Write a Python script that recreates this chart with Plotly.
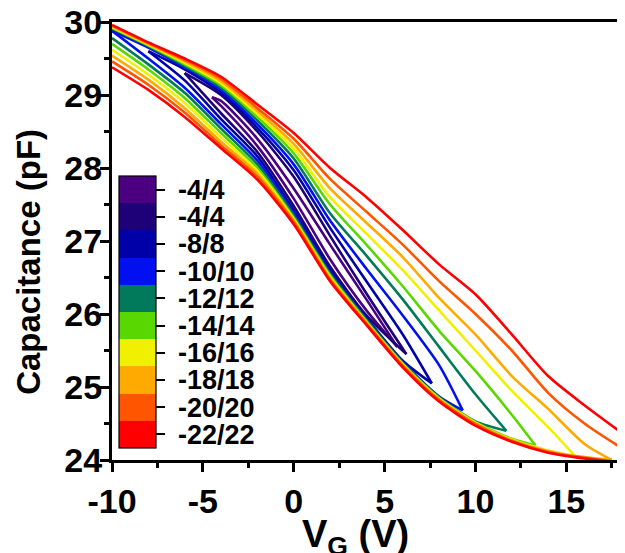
import plotly.graph_objects as go

# sweep ranges (label) and their colours, smallest loop first
RANGES = ["-4/4", "-4/4", "-8/8", "-10/10", "-12/12", "-14/14", "-16/16", "-18/18", "-20/20", "-22/22"]
COLORS = ["#4a0080", "#1e0078", "#0000a8", "#0010f0", "#007a5a",
          "#58d800", "#f0f000", "#ffaa00", "#ff5500", "#ff0000"]

X_TICKS = [-10, -5, 0, 5, 10, 15]
X_TICK_TEXT = ["-10", "-5", "0", "5", "10", "15"]
Y_TICKS = [24, 25, 26, 27, 28, 29, 30]

# gate voltage (V) and capacitance (pF) read off each branch of each loop
# A = lower-left branch, B = upper-right branch
V_4 = [-4.5, -4, -2, 0, 2, 4, 5.7]
A_4 = [28.97, 28.85, 28.30, 27.58, 26.75, 26.05, 25.55]
B_4 = [28.97, 28.92, 28.40, 27.72, 26.95, 26.20, 25.55]

V_6 = [-6, -4, -2, 0, 2, 4, 6.2]
A_6 = [29.30, 28.75, 28.22, 27.48, 26.65, 25.98, 25.45]
B_6 = [29.30, 29.00, 28.50, 27.88, 27.07, 26.28, 25.45]

V_8 = [-8, -6, -4, -2, 0, 2, 4, 6, 7.6]
A_8 = [29.60, 29.20, 28.67, 28.16, 27.42, 26.60, 25.95, 25.36, 25.05]
B_8 = [29.60, 29.35, 29.03, 28.55, 27.97, 27.18, 26.45, 25.72, 25.05]

V_10 = [-10, -8, -6, -4, -2, 0, 2, 4, 6, 8, 9.3]
A_10 = [29.88, 29.50, 29.10, 28.60, 28.10, 27.38, 26.57, 25.93, 25.34, 24.87, 24.68]
B_10 = [29.88, 29.65, 29.38, 29.07, 28.60, 28.05, 27.28, 26.62, 25.98, 25.30, 24.68]

V_12 = [-10, -8, -6, -4, -2, 0, 2, 4, 6, 8, 10, 11.7]
A_12 = [29.78, 29.42, 29.03, 28.54, 28.05, 27.35, 26.55, 25.92, 25.33, 24.86, 24.53, 24.40]
B_12 = [29.91, 29.67, 29.40, 29.10, 28.65, 28.13, 27.38, 26.80, 26.20, 25.55, 24.90, 24.40]

V_14 = [-10, -8, -6, -4, -2, 0, 2, 4, 6, 8, 10, 12, 13.3]
A_14 = [29.70, 29.35, 28.96, 28.48, 28.00, 27.32, 26.53, 25.90, 25.32, 24.85, 24.52, 24.29, 24.20]
B_14 = [29.92, 29.68, 29.42, 29.13, 28.70, 28.20, 27.50, 26.95, 26.38, 25.77, 25.22, 24.62, 24.20]

V_16 = [-10, -8, -6, -4, -2, 0, 2, 4, 6, 8, 10, 12, 14, 15.5]
A_16 = [29.62, 29.28, 28.89, 28.42, 27.96, 27.30, 26.51, 25.89, 25.31, 24.84, 24.51, 24.28, 24.13, 24.05]
B_16 = [29.93, 29.69, 29.44, 29.16, 28.74, 28.27, 27.60, 27.10, 26.60, 26.05, 25.50, 24.95, 24.45, 24.05]

V_18 = [-10, -8, -6, -4, -2, 0, 2, 4, 6, 8, 10, 12, 14, 16, 17.5]
A_18 = [29.54, 29.21, 28.82, 28.36, 27.92, 27.28, 26.49, 25.88, 25.30, 24.83, 24.50, 24.27, 24.12, 24.04, 24.00]
B_18 = [29.94, 29.70, 29.46, 29.19, 28.78, 28.33, 27.72, 27.25, 26.78, 26.22, 25.72, 25.15, 24.70, 24.22, 24.00]

V_20 = [-10, -8, -6, -4, -2, 0, 2, 4, 6, 8, 10, 12, 14, 16, 18]
A_20 = [29.46, 29.14, 28.76, 28.31, 27.88, 27.26, 26.47, 25.87, 25.29, 24.82, 24.49, 24.26, 24.11, 24.03, 23.97]
B_20 = [29.95, 29.71, 29.48, 29.22, 28.82, 28.40, 27.85, 27.40, 26.95, 26.45, 26.00, 25.50, 24.92, 24.50, 24.17]

V_22 = [-10, -8, -6, -4, -2, 0, 2, 4, 6, 8, 10, 12, 14, 16, 18]
A_22 = [29.38, 29.07, 28.70, 28.27, 27.84, 27.23, 26.45, 25.85, 25.27, 24.80, 24.47, 24.25, 24.10, 24.02, 23.96]
B_22 = [29.96, 29.72, 29.50, 29.25, 28.87, 28.48, 28.00, 27.60, 27.15, 26.68, 26.27, 25.72, 25.15, 24.75, 24.38]

LOOPS = [(V_4, A_4, B_4), (V_6, A_6, B_6), (V_8, A_8, B_8), (V_10, A_10, B_10),
         (V_12, A_12, B_12), (V_14, A_14, B_14), (V_16, A_16, B_16),
         (V_18, A_18, B_18), (V_20, A_20, B_20), (V_22, A_22, B_22)]

FONT = "Liberation Sans, Arial, sans-serif"

fig = go.Figure()

for (v, a, b), color, label in zip(LOOPS, COLORS, RANGES):
    for branch in (a, b):
        fig.add_trace(go.Scatter(
            x=v, y=branch, mode="lines", name=label, showlegend=False,
            line=dict(color=color, width=2.6, shape="spline", smoothing=0.7),
        ))

# colour key drawn as a discrete colorbar, red at the bottom
n = len(COLORS)
scale = []
for i, c in enumerate(reversed(COLORS)):
    scale += [(i / n, c), ((i + 1) / n, c)]

fig.add_trace(go.Scatter(
    x=[None], y=[None], mode="markers", showlegend=False, hoverinfo="skip",
    marker=dict(
        color=[0], cmin=-0.5, cmax=n - 0.5, colorscale=scale, showscale=True,
        colorbar=dict(
            tickvals=list(range(n)), ticktext=[" " + t for t in reversed(RANGES)],
            ticks="outside", ticklen=9, tickwidth=1.5, tickcolor="black",
            thickness=37, thicknessmode="pixels",
            len=272, lenmode="pixels",
            x=0.014, xanchor="left", y=0.338, yanchor="middle",
            outlinewidth=1.2, outlinecolor="black",
            tickfont=dict(family=FONT, size=27, color="black", weight="bold"),
            xpad=0, ypad=0,
        ),
    ),
))

axis_common = dict(
    showline=True, linecolor="black", linewidth=3, mirror=True,
    ticks="outside", ticklen=9, tickwidth=2.5, tickcolor="black",
    showgrid=False, zeroline=False, automargin=False, ticklabeloverflow="allow",
    tickfont=dict(family=FONT, size=34, color="black", weight="bold"),
)

fig.update_xaxes(
    range=[-10, 17.9], tickvals=X_TICKS, ticktext=X_TICK_TEXT,
    minor=dict(ticks="outside", ticklen=5, tickwidth=2.5, tickcolor="black", dtick=2.5, tick0=-10),
    **axis_common,
)
fig.update_yaxes(
    range=[24, 30], tickvals=Y_TICKS, ticklabelstandoff=-9,
    minor=dict(ticks="outside", ticklen=5, tickwidth=2.5, tickcolor="black", dtick=0.5, tick0=24),
    **axis_common,
)

# axis titles as annotations so the plot area stays where the reference has it
fig.add_annotation(
    text="Capacitance (pF)", textangle=-90, showarrow=False,
    xref="paper", yref="paper", x=-0.166, y=0.452, xanchor="center", yanchor="middle",
    font=dict(family=FONT, size=33, color="black", weight="bold"),
)
fig.add_annotation(
    text="V<sub>G</sub> (V)", showarrow=False,
    xref="paper", yref="paper", x=0.481, y=-0.176, xanchor="center", yanchor="middle",
    font=dict(family=FONT, size=38, color="black", weight="bold"),
)

# the page adds an 8 px offset, so the margins are reduced by that much
fig.update_layout(
    width=625, height=553,
    margin=dict(l=104, r=14, t=14, b=101),
    paper_bgcolor="white", plot_bgcolor="white",
    showlegend=False,
)

fig.write_html("out.html")
